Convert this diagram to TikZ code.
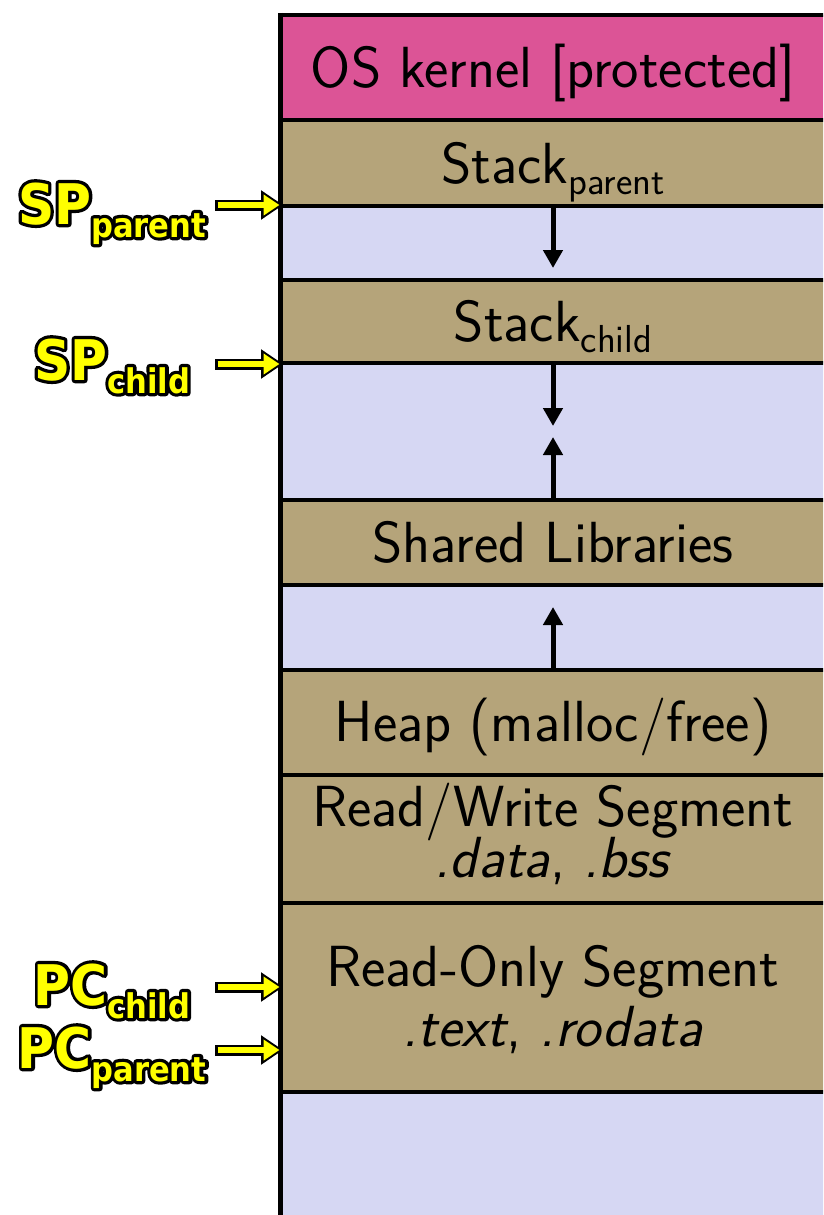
\documentclass[tikz,border=0pt]{standalone}
\usepackage{fontspec}
\usetikzlibrary{arrows.meta,calc}
\newfontfamily\lblfont{DejaVu Sans Condensed}

\definecolor{kernelpink}{RGB}{220,84,150}
\definecolor{segtan}{RGB}{181,164,122}
\definecolor{freelav}{RGB}{214,215,243}
\definecolor{lblyellow}{RGB}{255,255,0}

% sizes used inside the memory column
\newcommand\segsize{\fontsize{58}{64}\selectfont}
\newcommand\subsize{\fontsize{39}{42}\selectfont}
\newcommand\segsub[1]{\raisebox{-11pt}{\subsize #1}}
% register labels on the left: a stroked black copy under a yellow one
\newcommand\regsub[1]{\raisebox{-13pt}{\fontsize{34}{36}\selectfont #1}}
\newcommand\strokeon{\special{pdf:literal direct 0 0 0 RG 6.5 w 1 j 2 Tr}}
\newcommand\strokeoff{\special{pdf:literal direct 0 Tr}}
\newcommand\reglabel[3]{% name, position, contents
  \node[reg, text=black] (#1-halo) at #2 {\strokeon#3\strokeoff};
  \node[reg, text=lblyellow] (#1) at #2 {#3};
}

\begin{document}
\begin{tikzpicture}[x=1pt,y=-1pt,
  rule/.style={line width=4.5pt},
  segtext/.style={anchor=base, inner sep=0pt, font=\segsize\sffamily},
  firstline/.style={segtext, text depth=0pt},
  secondline/.style={segtext, text height=40pt},
  growarrow/.style={line width=5pt, -{Triangle[length=18pt,width=19pt]}},
  reg/.style={anchor=base, inner sep=0pt, font=\fontsize{56}{60}\selectfont\lblfont\bfseries},
  ptrback/.style={line width=11pt, -{Triangle[length=22pt,width=28pt]}},
  ptrfront/.style={line width=5.5pt, lblyellow, shorten >=3.5pt, shorten <=2.5pt,
    -{Triangle[length=16pt,width=20pt]}}]
\useasboundingbox (0,0) rectangle (823,1215);
\clip (0,0) rectangle (823,1215);

% memory bands
\fill[kernelpink] (280,15)   rectangle (830,120);
\fill[segtan]     (280,120)  rectangle (830,206);
\fill[freelav]    (280,206)  rectangle (830,280);
\fill[segtan]     (280,280)  rectangle (830,363);
\fill[freelav]    (280,363)  rectangle (830,500);
\fill[segtan]     (280,500)  rectangle (830,585);
\fill[freelav]    (280,585)  rectangle (830,670);
\fill[segtan]     (280,670)  rectangle (830,1092);
\fill[freelav]    (280,1092) rectangle (830,1220);

% band boundaries
\foreach \y in {15,120,206,280,363,500,585,670,775,903,1092}
  \draw[rule] (280,\y) -- (830,\y);
\draw[line width=5pt] (280,13) -- (280,1220);

% band labels
\node[segtext] (kernel) at (553,88)  {OS kernel [protected]};
\node[segtext] (stackP) at (553,183) {Stack\segsub{parent}};
\node[segtext] (stackC) at (553,341) {Stack\segsub{child}};
\node[segtext] (shlib)  at (553,562) {Shared Libraries};
\node[segtext] (heap)   at (553,741) {Heap (malloc/free)};
\node[firstline]  (rw)    at (553,826) {Read/Write Segment};
\node[secondline] (rwsec) at (553,877) {\textit{.data}, \textit{.bss}};
\node[firstline]  (ro)    at (553,986) {Read-Only Segment};
\node[secondline] (rosec) at (553,1046) {\textit{.text}, \textit{.rodata}};

% growth directions
\coordinate (pTop)   at (553,206);
\coordinate (pEnd)   at (553,268);
\coordinate (cTop)   at (553,363);
\coordinate (cEnd)   at (553,426);
\coordinate (libTop) at (553,500);
\coordinate (libEnd) at (553,437);
\coordinate (hpTop)  at (553,670);
\coordinate (hpEnd)  at (553,607);
\draw[growarrow] (pTop) -- (pEnd);
\draw[growarrow] (cTop) -- (cEnd);
\draw[growarrow] (libTop) -- (libEnd);
\draw[growarrow] (hpTop) -- (hpEnd);

% register labels and their pointers
\reglabel{spP}{(112,224)}{SP\regsub{parent}}
\reglabel{spC}{(112,380)}{SP\regsub{child}}
\reglabel{pcC}{(112,1005)}{PC\regsub{child}}
\reglabel{pcP}{(112,1068)}{PC\regsub{parent}}

\foreach \n/\y in {spPa/205,spCa/364,pcCa/987,pcPa/1050}{
  \coordinate (\n-from) at (215,\y);
  \coordinate (\n-to)   at (283,\y);
  \draw[ptrback]  (\n-from) -- (\n-to);
  \draw[ptrfront] (\n-from) -- (\n-to);
}
\end{tikzpicture}
\end{document}
